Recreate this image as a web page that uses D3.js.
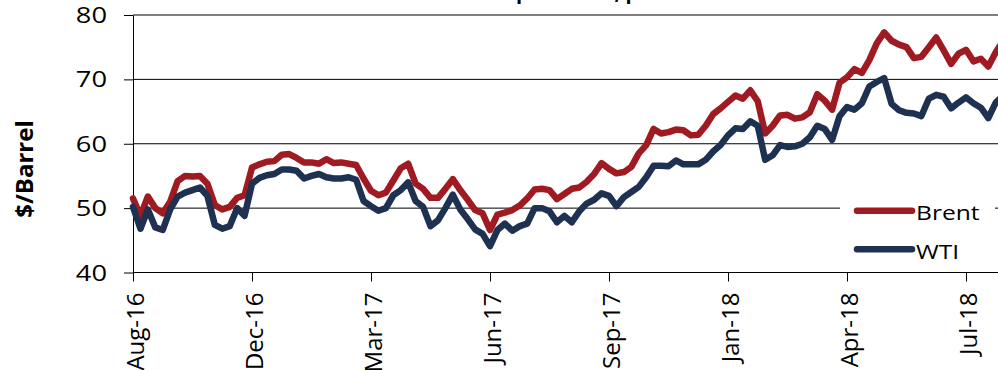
<!DOCTYPE html>
<html>
<head>
<meta charset="utf-8">
<script src="https://cdn.jsdelivr.net/npm/d3@7"></script>
<style>
  html, body { margin: 0; padding: 0; background: #fff; }
  svg { display: block; }
  text { font-family: "Open Sans", "Liberation Sans", sans-serif; fill: #000; }
</style>
</head>
<body>
<div id="chart"></div>
<script>
// daily spot prices, sampled every few trading days ($/barrel)
var brent = [51.5, 48.8, 51.8, 50.0, 49.2, 51.0, 54.2, 55.0, 54.9, 55.0,
  53.8, 50.5, 49.8, 50.2, 51.6, 52.0, 56.3, 56.8, 57.2, 57.3,
  58.3, 58.4, 57.8, 57.1, 57.1, 56.9, 57.6, 57.0, 57.1, 56.9,
  56.7, 54.6, 52.7, 52.0, 52.4, 54.3, 56.2, 56.9, 53.8, 53.0,
  51.6, 51.6, 53.0, 54.5, 52.8, 51.3, 49.7, 49.2, 46.6, 49.0,
  49.3, 49.7, 50.4, 51.5, 52.9, 53.0, 52.8, 51.4, 52.2, 53.0,
  53.2, 54.1, 55.3, 57.0, 56.1, 55.4, 55.6, 56.4, 58.5, 59.8,
  62.3, 61.6, 61.8, 62.2, 62.1, 61.3, 61.4, 62.8, 64.6, 65.5,
  66.5, 67.5, 67.0, 68.3, 66.6, 61.6, 62.8, 64.4, 64.5, 63.9,
  64.1, 64.9, 67.7, 66.7, 65.3, 69.5, 70.3, 71.6, 71.0, 73.0,
  75.6, 77.3, 76.0, 75.4, 75.0, 73.3, 73.5, 75.0, 76.5, 74.5,
  72.4, 74.0, 74.6, 72.8, 73.2, 72.0, 74.2, 76.0];

var wti = [50.2, 46.8, 49.8, 47.0, 46.6, 49.8, 51.8, 52.4, 52.8, 53.2,
  51.9, 47.4, 46.8, 47.2, 50.0, 48.8, 53.8, 54.7, 55.1, 55.3,
  56.0, 56.0, 55.8, 54.6, 55.0, 55.3, 54.8, 54.6, 54.6, 54.8,
  54.4, 51.1, 50.3, 49.6, 50.0, 52.0, 52.8, 54.0, 51.1, 50.2,
  47.2, 48.1, 50.0, 52.1, 49.8, 48.3, 46.7, 46.0, 44.1, 46.6,
  47.6, 46.5, 47.2, 47.6, 50.0, 50.0, 49.5, 47.8, 48.8, 47.8,
  49.5, 50.7, 51.3, 52.3, 51.9, 50.3, 51.7, 52.5, 53.3, 54.8,
  56.6, 56.6, 56.5, 57.4, 56.8, 56.8, 56.8, 57.5, 58.8, 59.8,
  61.3, 62.4, 62.3, 63.5, 62.8, 57.5, 58.2, 59.8, 59.5, 59.6,
  60.0, 61.0, 62.8, 62.3, 60.6, 64.3, 65.7, 65.3, 66.3, 68.9,
  69.6, 70.2, 66.2, 65.2, 64.8, 64.7, 64.3, 67.0, 67.6, 67.3,
  65.5, 66.4, 67.2, 66.3, 65.6, 64.0, 66.4, 67.5];

var seriesNames = ["Brent", "WTI"];
var seriesColors = ["#a01a22", "#1f3150"];
var tickLabels = ["Aug-16", "Dec-16", "Mar-17", "Jun-17", "Sep-17", "Jan-18", "Apr-18", "Jul-18"];
var tickStep = 16;
var yTicks = [40, 50, 60, 70, 80];

var W = 998, H = 370;
var svg = d3.select("#chart").append("svg").attr("width", W).attr("height", H);

var x = d3.scaleLinear().domain([0, tickStep * (tickLabels.length - 1)]).range([133, 966]);
var y = d3.scaleLinear().domain([40, 80]).range([272.5, 15]);

// title (mostly off the top of the picture)
svg.append("text")
  .attr("x", 566).attr("y", -1.5)
  .attr("text-anchor", "middle")
  .style("font-size", "20px").style("font-weight", "bold")
  .text("Crude Oil Spot Prices, per barrel");

// grid lines
svg.append("g").selectAll("line")
  .data(yTicks.slice(1))
  .join("line")
  .attr("x1", x(0)).attr("x2", W)
  .attr("y1", function (d) { return y(d); })
  .attr("y2", function (d) { return y(d); })
  .attr("stroke", "#000").attr("stroke-width", 1);

// axes
var yAxis = svg.append("g").attr("transform", "translate(" + x(0) + ",0)")
  .call(d3.axisLeft(y).tickValues(yTicks).tickSize(9).tickSizeOuter(0).tickFormat(d3.format("d")));
yAxis.select(".domain").attr("stroke", "#000");
yAxis.selectAll(".tick line").attr("stroke", "#000");
yAxis.selectAll(".tick text")
  .attr("x", 0).attr("dy", null).attr("y", 0)
  .attr("text-anchor", "end")
  .attr("transform", "translate(-26,7.5) scale(1.3,1)")
  .style("font-size", "21px");

var xAxis = svg.append("g").attr("transform", "translate(0," + y(40) + ")")
  .call(d3.axisBottom(x)
    .tickValues(d3.range(tickLabels.length).map(function (i) { return i * tickStep; }))
    .tickSize(9).tickSizeOuter(0)
    .tickFormat(function (d) { return tickLabels[d / tickStep]; }));
xAxis.select(".domain").attr("stroke", "#000").attr("d", "M" + x(0) + ",0H" + W);
xAxis.selectAll(".tick line").attr("stroke", "#000");
xAxis.selectAll(".tick text")
  .attr("x", 0).attr("y", 0).attr("dy", null)
  .attr("text-anchor", "end")
  .attr("transform", "translate(10,20) rotate(-90)")
  .style("font-size", "24px");
svg.selectAll(".tick text").style("font-family", "'Open Sans', 'Liberation Sans', sans-serif").attr("fill", "#000");

// y axis title
svg.append("text")
  .attr("transform", "translate(33,169) rotate(-90)")
  .attr("text-anchor", "middle")
  .style("font-size", "24px").style("font-weight", "bold")
  .text("$/Barrel");

// lines
var line = d3.line()
  .x(function (d, i) { return x(i); })
  .y(function (d) { return y(d); });

[brent, wti].forEach(function (values, k) {
  svg.append("path")
    .datum(values)
    .attr("d", line)
    .attr("fill", "none")
    .attr("stroke", seriesColors[k])
    .attr("stroke-width", 6.5)
    .attr("stroke-linejoin", "round")
    .attr("stroke-linecap", "round");
});

// legend
var legend = svg.append("g");
legend.append("rect")
  .attr("x", 840).attr("y", 192).attr("width", 155).attr("height", 76)
  .attr("fill", "#fff");
seriesNames.forEach(function (name, k) {
  var ly = 210.7 + k * 38.6;
  legend.append("line")
    .attr("x1", 857).attr("x2", 912).attr("y1", ly).attr("y2", ly)
    .attr("stroke", seriesColors[k]).attr("stroke-width", 6.5)
    .attr("stroke-linecap", "round");
  legend.append("text")
    .attr("transform", "translate(916," + (ly + 9.5) + ") scale(1.23,1)")
    .style("font-size", "20px")
    .text(name);
});
</script>
</body>
</html>
